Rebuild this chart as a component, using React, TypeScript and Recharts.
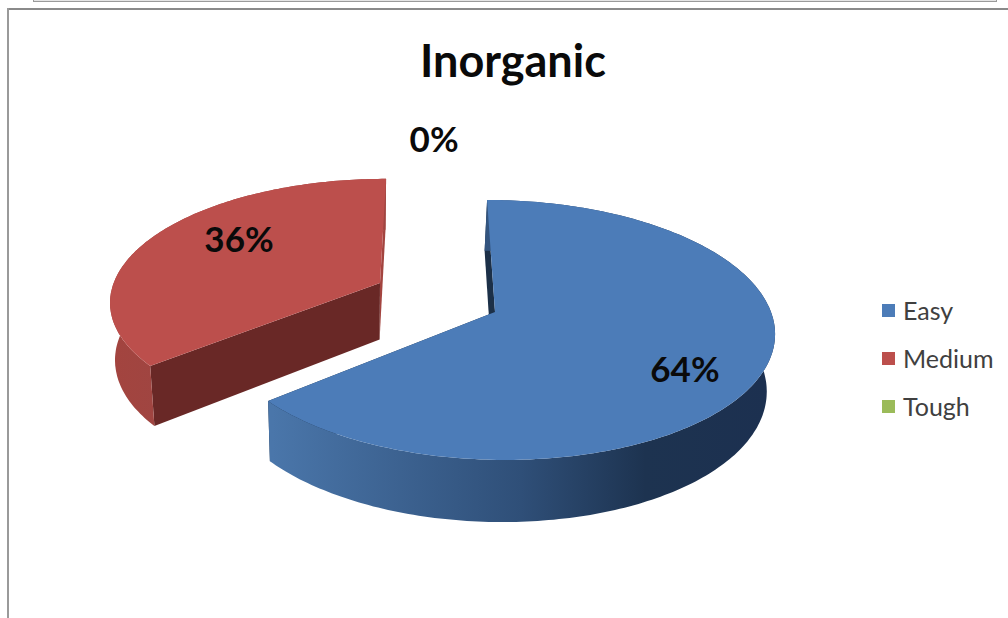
import * as React from "react";
import { PieChart, Pie, Legend } from "recharts";

const CATEGORIES = ["Easy", "Medium", "Tough"];
const VALUES = [64, 36, 0];
const COLORS = ["#4c7cb8", "#bc4f4c", "#9bbb59"];
const START_CUT_COLORS = ["#1c3048", "#a3443f", "#9bbb59"];
const END_CUT_COLORS = ["#1c3048", "#692826", "#9bbb59"];
const WALL_FILLS = ["url(#easyWall)", "url(#mediumWall)", "#9bbb59"];

const tableData = CATEGORIES.map((name, i) => ({ name, value: VALUES[i], fill: COLORS[i] }));

// fake 3D: the flat pie angles get pushed through a small perspective projection
const RX = 276;
const RY = 127.5;
const TILT = 0.138;
const VANISH_X = 430;
const DEPTH = 56.5;
const WALL_VANISH_X = 360;
const WALL_SHRINK = 0.98;

const CX = 495;
const CY = 312;
// the exploded slice sits a bit further back, so it also comes out smaller
const SLICE_SHIFT = [[0, 0], [-115, -29], [0, 0]];
const SLICE_SCALE = [[1, 1], [0.965, 0.93], [1, 1]];
const LABEL_NUDGE = [[-9, 13], [30, -9], [-53, -62]];

function project(index: number, cx: number, cy: number, angle: number, t: number) {
  const ax = cx + SLICE_SHIFT[index][0];
  const ay = cy + SLICE_SHIFT[index][1];
  const rad = (angle * Math.PI) / 180;
  const u = t * Math.cos(rad);
  const v = t * Math.sin(rad);
  const w = 1 + TILT * v;
  return {
    x: ax + (RX * SLICE_SCALE[index][0] * u + (VANISH_X - ax) * TILT * v) / w,
    y: ay - (RY * SLICE_SCALE[index][1] * v) / w,
    v,
  };
}

function drop(p: { x: number; y: number; v: number }) {
  return {
    x: WALL_VANISH_X + (p.x - WALL_VANISH_X) * WALL_SHRINK,
    y: p.y + DEPTH * (1 - 0.1 * p.v),
  };
}

function toPath(points: { x: number; y: number }[]) {
  return "M" + points.map((p) => `${p.x.toFixed(1)},${p.y.toFixed(1)}`).join("L") + "Z";
}

function Slice3D(props: any) {
  const { cx, cy, startAngle, endAngle, name } = props;
  const index = CATEGORIES.indexOf(name);
  if (index < 0 || Math.abs(endAngle - startAngle) < 0.01) return <g />;

  const steps = Math.ceil(Math.abs(endAngle - startAngle));
  const rim = [];
  for (let s = 0; s <= steps; s++) {
    rim.push(project(index, cx, cy, startAngle + ((endAngle - startAngle) * s) / steps, 1));
  }
  const apex = project(index, cx, cy, startAngle, 0);
  const low = rim.map(drop);
  const apexLow = drop(apex);

  // recharts hands angles going clockwise from startAngle, so for Medium the "last" edge is the top one
  const first = [rim[0], apex, apexLow, low[0]];
  const last = [rim[rim.length - 1], apex, apexLow, low[low.length - 1]];
  const wall = [...rim, ...[...low].reverse()];
  const top = [apex, ...rim];

  return (
    <g>
      <path d={toPath(last)} fill={START_CUT_COLORS[index]} />
      <path d={toPath(first)} fill={END_CUT_COLORS[index]} />
      <path d={toPath(wall)} fill={WALL_FILLS[index]} />
      <path d={toPath(top)} fill={COLORS[index]} />
    </g>
  );
}

function renderPercent(props: any) {
  const { cx, cy, midAngle, percent, index } = props;
  const p = project(index, cx, cy, midAngle, index === 2 ? 1 : 0.75);
  return (
    <text
      x={p.x + LABEL_NUDGE[index][0]}
      y={p.y + LABEL_NUDGE[index][1]}
      textAnchor="middle"
      dominantBaseline="central"
      fontFamily="Lato"
      fontWeight={700}
      fontSize={35}
      fill="#0a0a0a"
    >
      {Math.round(percent * 100)}%
    </text>
  );
}

function LegendList() {
  return (
    <div style={{ fontFamily: "Lato", fontSize: 25, color: "#404040" }}>
      {CATEGORIES.map((name, i) => (
        <div key={name} style={{ display: "flex", alignItems: "center", height: 48 }}>
          <span style={{ width: 13, height: 13, background: COLORS[i], marginRight: 8 }} />
          {name}
        </div>
      ))}
    </div>
  );
}

export default function App() {
  return (
    <div style={{ position: "absolute", left: 0, top: 0, width: 1008, height: 618, overflow: "hidden", background: "#fff" }}>
      <div style={{ position: "absolute", left: 33, top: -4, width: 962, height: 5, border: "1px solid #9a9a9a", borderTop: "none", background: "#e4e4e4" }} />
      <div style={{ position: "absolute", left: 7, top: 8, width: 1001, height: 2, background: "#8a8a8a" }} />
      <div style={{ position: "absolute", left: 7, top: 8, width: 2, height: 610, background: "#9a9a9a" }} />
      <div style={{ position: "absolute", left: 420, top: 34, fontFamily: "Lato", fontWeight: 700, fontSize: 45, lineHeight: "52px", color: "#0a0a0a" }}>
        Inorganic
      </div>
      <PieChart width={1008} height={618} margin={{ top: 0, right: 0, bottom: 0, left: 0 }} style={{ position: "absolute", left: 0, top: 0 }}>
        <defs>
          <linearGradient id="easyWall" gradientUnits="userSpaceOnUse" x1={272} y1={0} x2={770} y2={0}>
            <stop offset="0%" stopColor="#4a76aa" />
            <stop offset="50%" stopColor="#2f4f78" />
            <stop offset="75%" stopColor="#1d3350" />
            <stop offset="100%" stopColor="#1c3050" />
          </linearGradient>
          <linearGradient id="mediumWall" gradientUnits="userSpaceOnUse" x1={112} y1={0} x2={155} y2={0}>
            <stop offset="0%" stopColor="#a3443f" />
            <stop offset="100%" stopColor="#a04541" />
          </linearGradient>
        </defs>
        <Pie
          data={tableData}
          dataKey="value"
          nameKey="name"
          cx={CX}
          cy={CY}
          outerRadius={RY}
          startAngle={90}
          endAngle={-270}
          stroke="none"
          isAnimationActive={false}
          shape={Slice3D}
          label={renderPercent}
          labelLine={false}
        />
        <Legend
          layout="vertical"
          align="right"
          verticalAlign="middle"
          content={<LegendList />}
          wrapperStyle={{ position: "absolute", left: 882, top: 286, width: 126 }}
        />
      </PieChart>
    </div>
  );
}
